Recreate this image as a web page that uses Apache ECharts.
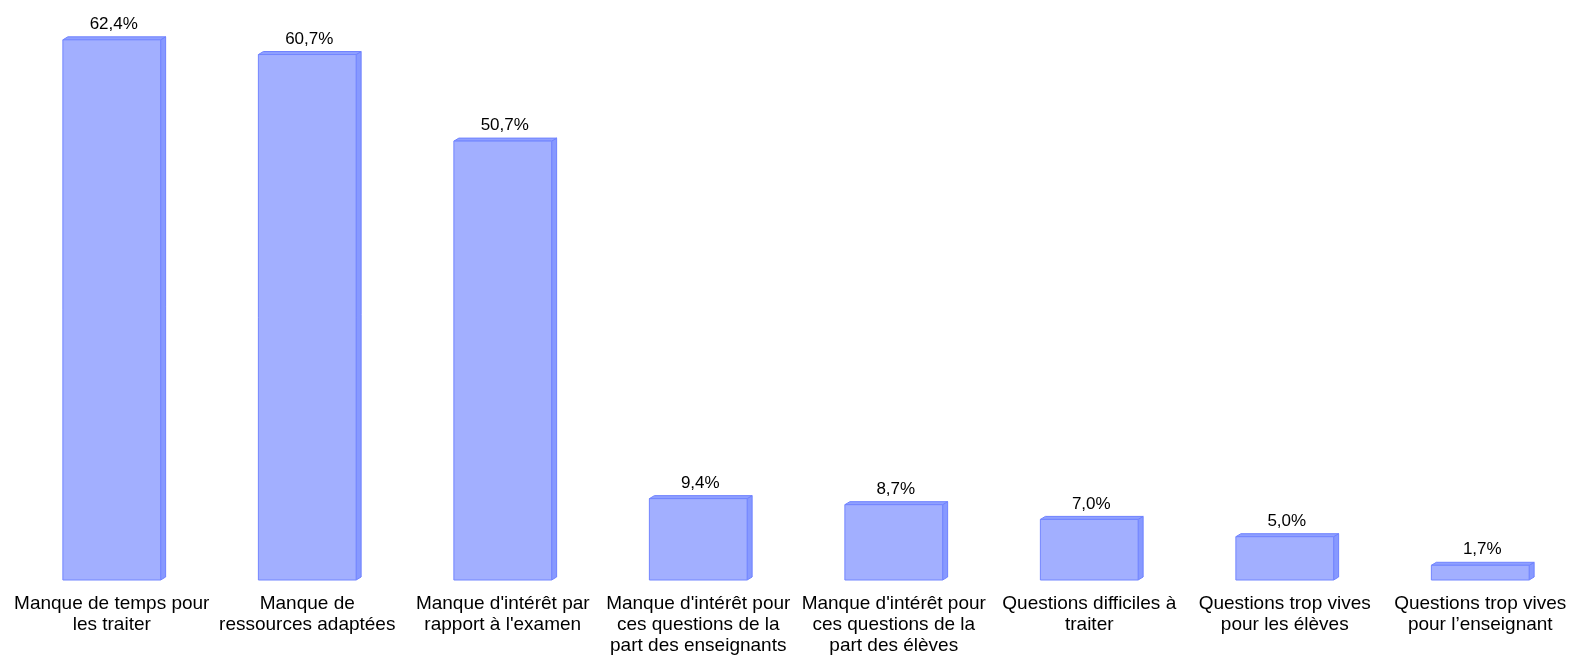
<!DOCTYPE html>
<html><head><meta charset="utf-8">
<script src="https://cdn.jsdelivr.net/npm/echarts@6/dist/echarts.min.js"></script>
<style>html,body{margin:0;padding:0;background:#fff}#c{width:1587px;height:663px}</style>
</head><body><div id="c"></div>
<script>
const categories = [
  "Manque de temps pour\nles traiter",
  "Manque de\nressources adaptées",
  "Manque d'intérêt par\nrapport à l'examen",
  "Manque d'intérêt pour\nces questions de la\npart des enseignants",
  "Manque d'intérêt pour\nces questions de la\npart des élèves",
  "Questions difficiles à\ntraiter",
  "Questions trop vives\npour les élèves",
  "Questions trop vives\npour l’enseignant"
];
const values = [62.4, 60.7, 50.7, 9.4, 8.7, 7.0, 5.0, 1.7];
const labels = ["62,4%", "60,7%", "50,7%", "9,4%", "8,7%", "7,0%", "5,0%", "1,7%"];

const chart = echarts.init(document.getElementById('c'), null, {renderer: 'canvas'});
const DX = 5, DY = 3;
chart.setOption({
  animation: false,
  grid: {left: 14, right: 9, top: 0, bottom: 83, containLabel: false},
  xAxis: {
    type: 'category', data: categories,
    axisLine: {show: false}, axisTick: {show: false},
    axisLabel: {interval: 0, color: '#000', fontFamily: 'Liberation Sans, Arial, sans-serif',
      fontSize: 19, lineHeight: 21, margin: 13}
  },
  yAxis: {type: 'value', min: 0, max: 67, show: false, splitLine: {show: false}},
  series: [{
    type: 'custom',
    data: values.map((v, i) => [i, v]),
    renderItem: function (params, api) {
      const i = api.value(0), v = api.value(1);
      const base = api.coord([i, 0]);
      const top = api.coord([i, v]);
      const bw = api.size([1, 0])[0] * 0.5;
      const x0 = base[0] - bw / 2, x1 = x0 + bw;
      const y0 = top[1], y1 = base[1];
      return {
        type: 'group',
        children: [
          {type: 'polygon', shape: {points: [[x1, y0], [x1 + DX, y0 - DY], [x1 + DX, y1 - DY], [x1, y1]]},
           style: {fill: '#8799ff', stroke: '#6f82ff', lineWidth: 1}},
          {type: 'polygon', shape: {points: [[x0, y0], [x0 + DX, y0 - DY], [x1 + DX, y0 - DY], [x1, y0]]},
           style: {fill: '#8fa0ff', stroke: '#6f82ff', lineWidth: 1}},
          {type: 'rect', shape: {x: x0, y: y0, width: bw, height: y1 - y0},
           style: {fill: '#a2afff', stroke: '#7386ff', lineWidth: 1}},
          {type: 'text', style: {x: (x0 + x1) / 2 + 2, y: y0 - DY - 4, text: labels[i],
            textAlign: 'center', textVerticalAlign: 'bottom', fill: '#000',
            font: '17px "Liberation Sans", Arial, sans-serif'}}
        ]
      };
    }
  }]
});
</script></body></html>
